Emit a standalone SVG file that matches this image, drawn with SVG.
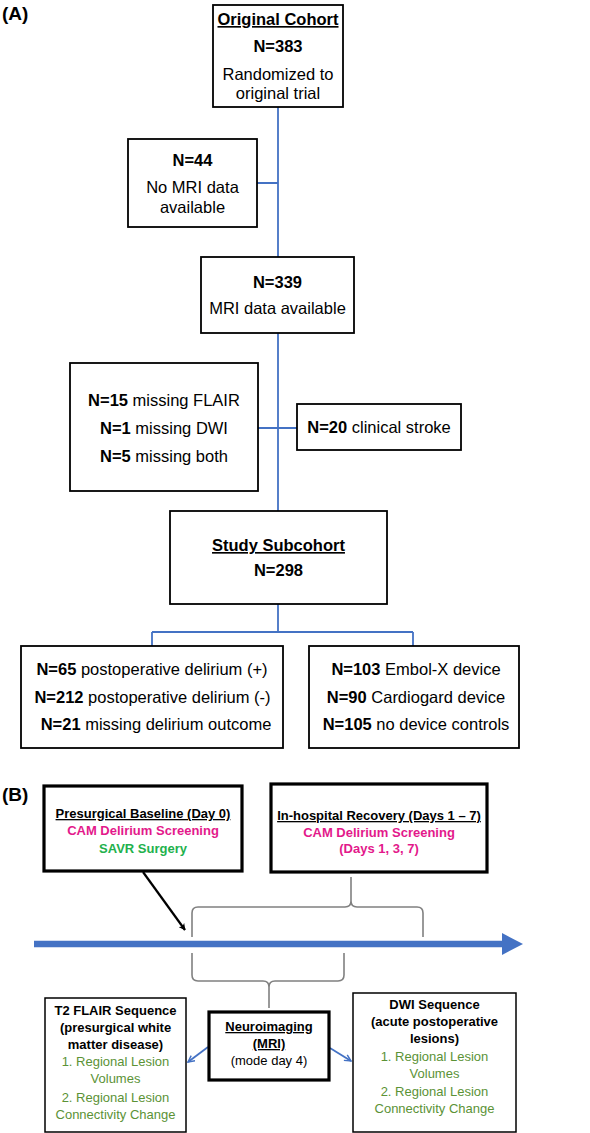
<svg xmlns="http://www.w3.org/2000/svg" width="590" height="1133" viewBox="0 0 590 1133">
<defs>
<style>
text{font-family:"Liberation Sans",Arial,sans-serif;fill:#000}
.a{font-size:16.5px;text-anchor:middle}
.b{font-size:13px;text-anchor:middle}
.bd{font-weight:bold}
.u{text-decoration:underline}
.lbl{font-size:19px;font-weight:bold}
.box{fill:#fff;stroke:#000;stroke-width:1.8}
.tbox{fill:#fff;stroke:#000;stroke-width:3.2}
.con{fill:none;stroke:#4472C4;stroke-width:1.8}
.brace{fill:none;stroke:#808080;stroke-width:1.6}
.mag{fill:#E3198B}
.grn{fill:#22B14C}
.olv{fill:#5B9236}
</style>
<marker id="ab" viewBox="0 0 10 10" refX="9" refY="5" markerWidth="7" markerHeight="7" orient="auto" markerUnits="userSpaceOnUse">
<path d="M0,0 L10,5 L0,10 L3,5 z" fill="#000"/>
</marker>
<marker id="bl" viewBox="0 0 10 10" refX="9" refY="5" markerWidth="8" markerHeight="8" orient="auto" markerUnits="userSpaceOnUse">
<path d="M1,1 L9,5 L1,9" fill="none" stroke="#4472C4" stroke-width="1.8"/>
</marker>
</defs>
<rect width="590" height="1133" fill="#fff"/>

<text class="lbl" x="2" y="20">(A)</text>
<text class="lbl" x="2" y="801">(B)</text>

<g id="connectors">
<path class="con" d="M278,107 V257 M257,183 H278 M278,333 V511 M258,428 H297 M278,604 V632 M152,632 H413 M152,632 V646 M413,632 V646"/>
<path d="M34,944 H506" stroke="#4472C4" stroke-width="6.5" fill="none"/>
<polygon points="502,933 523,944 502,955" fill="#4472C4"/>
<path d="M143,872 L185,930" stroke="#000" stroke-width="2.2" fill="none" marker-end="url(#ab)"/>
<path class="brace" d="M192,937 V913 Q192,907 198,907 H345 Q351,907 351,901 V877 M351,901 Q351,907 357,907 H417 Q423,907 423,913 V937"/>
<path class="brace" d="M192,953 V975 Q192,981 198,981 H263 Q269,981 269,987 V1008 M269,987 Q269,981 275,981 H338 Q344,981 344,975 V953"/>
<path d="M208,1047 L188,1062" stroke="#4472C4" stroke-width="1.8" fill="none" marker-end="url(#bl)"/>
<path d="M330,1048 L351,1061" stroke="#4472C4" stroke-width="1.8" fill="none" marker-end="url(#bl)"/>
</g>

<g id="original-cohort">
<rect class="box" x="213" y="5" width="130" height="102"/>
<text class="a bd u" x="278" y="25">Original Cohort</text>
<text class="a bd" x="278" y="52">N=383</text>
<text class="a" x="278" y="80">Randomized to</text>
<text class="a" x="278" y="99">original trial</text>
</g>

<g id="no-mri">
<rect class="box" x="128" y="139" width="129" height="88"/>
<text class="a bd" x="192.5" y="166">N=44</text>
<text class="a" x="192.5" y="193">No MRI data</text>
<text class="a" x="192.5" y="213">available</text>
</g>

<g id="mri-available">
<rect class="box" x="201" y="257" width="153" height="76"/>
<text class="a bd" x="277.5" y="288">N=339</text>
<text class="a" x="277.5" y="314">MRI data available</text>
</g>

<g id="missing">
<rect class="box" x="70" y="363" width="188" height="128"/>
<text class="a" x="164" y="406"><tspan class="bd">N=15</tspan> missing FLAIR</text>
<text class="a" x="164" y="434"><tspan class="bd">N=1</tspan> missing DWI</text>
<text class="a" x="164" y="462"><tspan class="bd">N=5</tspan> missing both</text>
</g>

<g id="stroke">
<rect class="box" x="297" y="404" width="164" height="46"/>
<text class="a" x="379" y="433"><tspan class="bd">N=20</tspan> clinical stroke</text>
</g>

<g id="study-subcohort">
<rect class="box" x="170" y="511" width="217" height="93"/>
<text class="a bd u" x="278.5" y="551">Study Subcohort</text>
<text class="a bd" x="278.5" y="576">N=298</text>
</g>

<g id="delirium">
<rect class="box" x="21" y="646" width="262" height="102"/>
<text class="a" x="152" y="675"><tspan class="bd">N=65</tspan> postoperative delirium (+)</text>
<text class="a" x="152.5" y="703"><tspan class="bd">N=212</tspan> postoperative delirium (-)</text>
<text class="a" x="156" y="730"><tspan class="bd">N=21</tspan> missing delirium outcome</text>
</g>

<g id="device">
<rect class="box" x="309" y="646" width="210" height="102"/>
<text class="a" x="416" y="675"><tspan class="bd">N=103</tspan> Embol-X device</text>
<text class="a" x="416" y="703"><tspan class="bd">N=90</tspan> Cardiogard device</text>
<text class="a" x="416" y="730"><tspan class="bd">N=105</tspan> no device controls</text>
</g>

<g id="presurgical">
<rect class="tbox" x="44" y="786" width="198" height="85"/>
<text class="b bd u" x="143" y="818">Presurgical Baseline (Day 0)</text>
<text class="b bd mag" x="143" y="835">CAM Delirium Screening</text>
<text class="b bd grn" x="143" y="853">SAVR Surgery</text>
</g>

<g id="in-hospital">
<rect class="tbox" x="271" y="784" width="216" height="88"/>
<text class="b bd u" x="379" y="820">In-hospital Recovery (Days 1 – 7)</text>
<text class="b bd mag" x="379" y="837">CAM Delirium Screening</text>
<text class="b bd mag" x="379" y="853">(Days 1, 3, 7)</text>
</g>

<g id="neuroimaging">
<rect class="tbox" x="209" y="1012" width="120" height="68"/>
<text class="b bd u" x="269" y="1031">Neuroimaging</text>
<text class="b bd u" x="269" y="1048">(MRI)</text>
<text class="b" x="269" y="1065">(mode day 4)</text>
</g>

<g id="t2-flair">
<rect class="box" x="45" y="998" width="141" height="134" style="stroke-width:1.5"/>
<text class="b bd" x="115.5" y="1015">T2 FLAIR Sequence</text>
<text class="b bd" x="115.5" y="1032">(presurgical white</text>
<text class="b bd" x="115.5" y="1049">matter disease)</text>
<text class="b olv" x="115.5" y="1066">1. Regional Lesion</text>
<text class="b olv" x="115.5" y="1083">Volumes</text>
<text class="b olv" x="115.5" y="1102">2. Regional Lesion</text>
<text class="b olv" x="115.5" y="1119">Connectivity Change</text>
</g>

<g id="dwi">
<rect class="box" x="353" y="993" width="163" height="139" style="stroke-width:1.5"/>
<text class="b bd" x="434.5" y="1009">DWI Sequence</text>
<text class="b bd" x="434.5" y="1026">(acute postoperative</text>
<text class="b bd" x="434.5" y="1043">lesions)</text>
<text class="b olv" x="434.5" y="1061">1. Regional Lesion</text>
<text class="b olv" x="434.5" y="1078">Volumes</text>
<text class="b olv" x="434.5" y="1096">2. Regional Lesion</text>
<text class="b olv" x="434.5" y="1113">Connectivity Change</text>
</g>
</svg>
